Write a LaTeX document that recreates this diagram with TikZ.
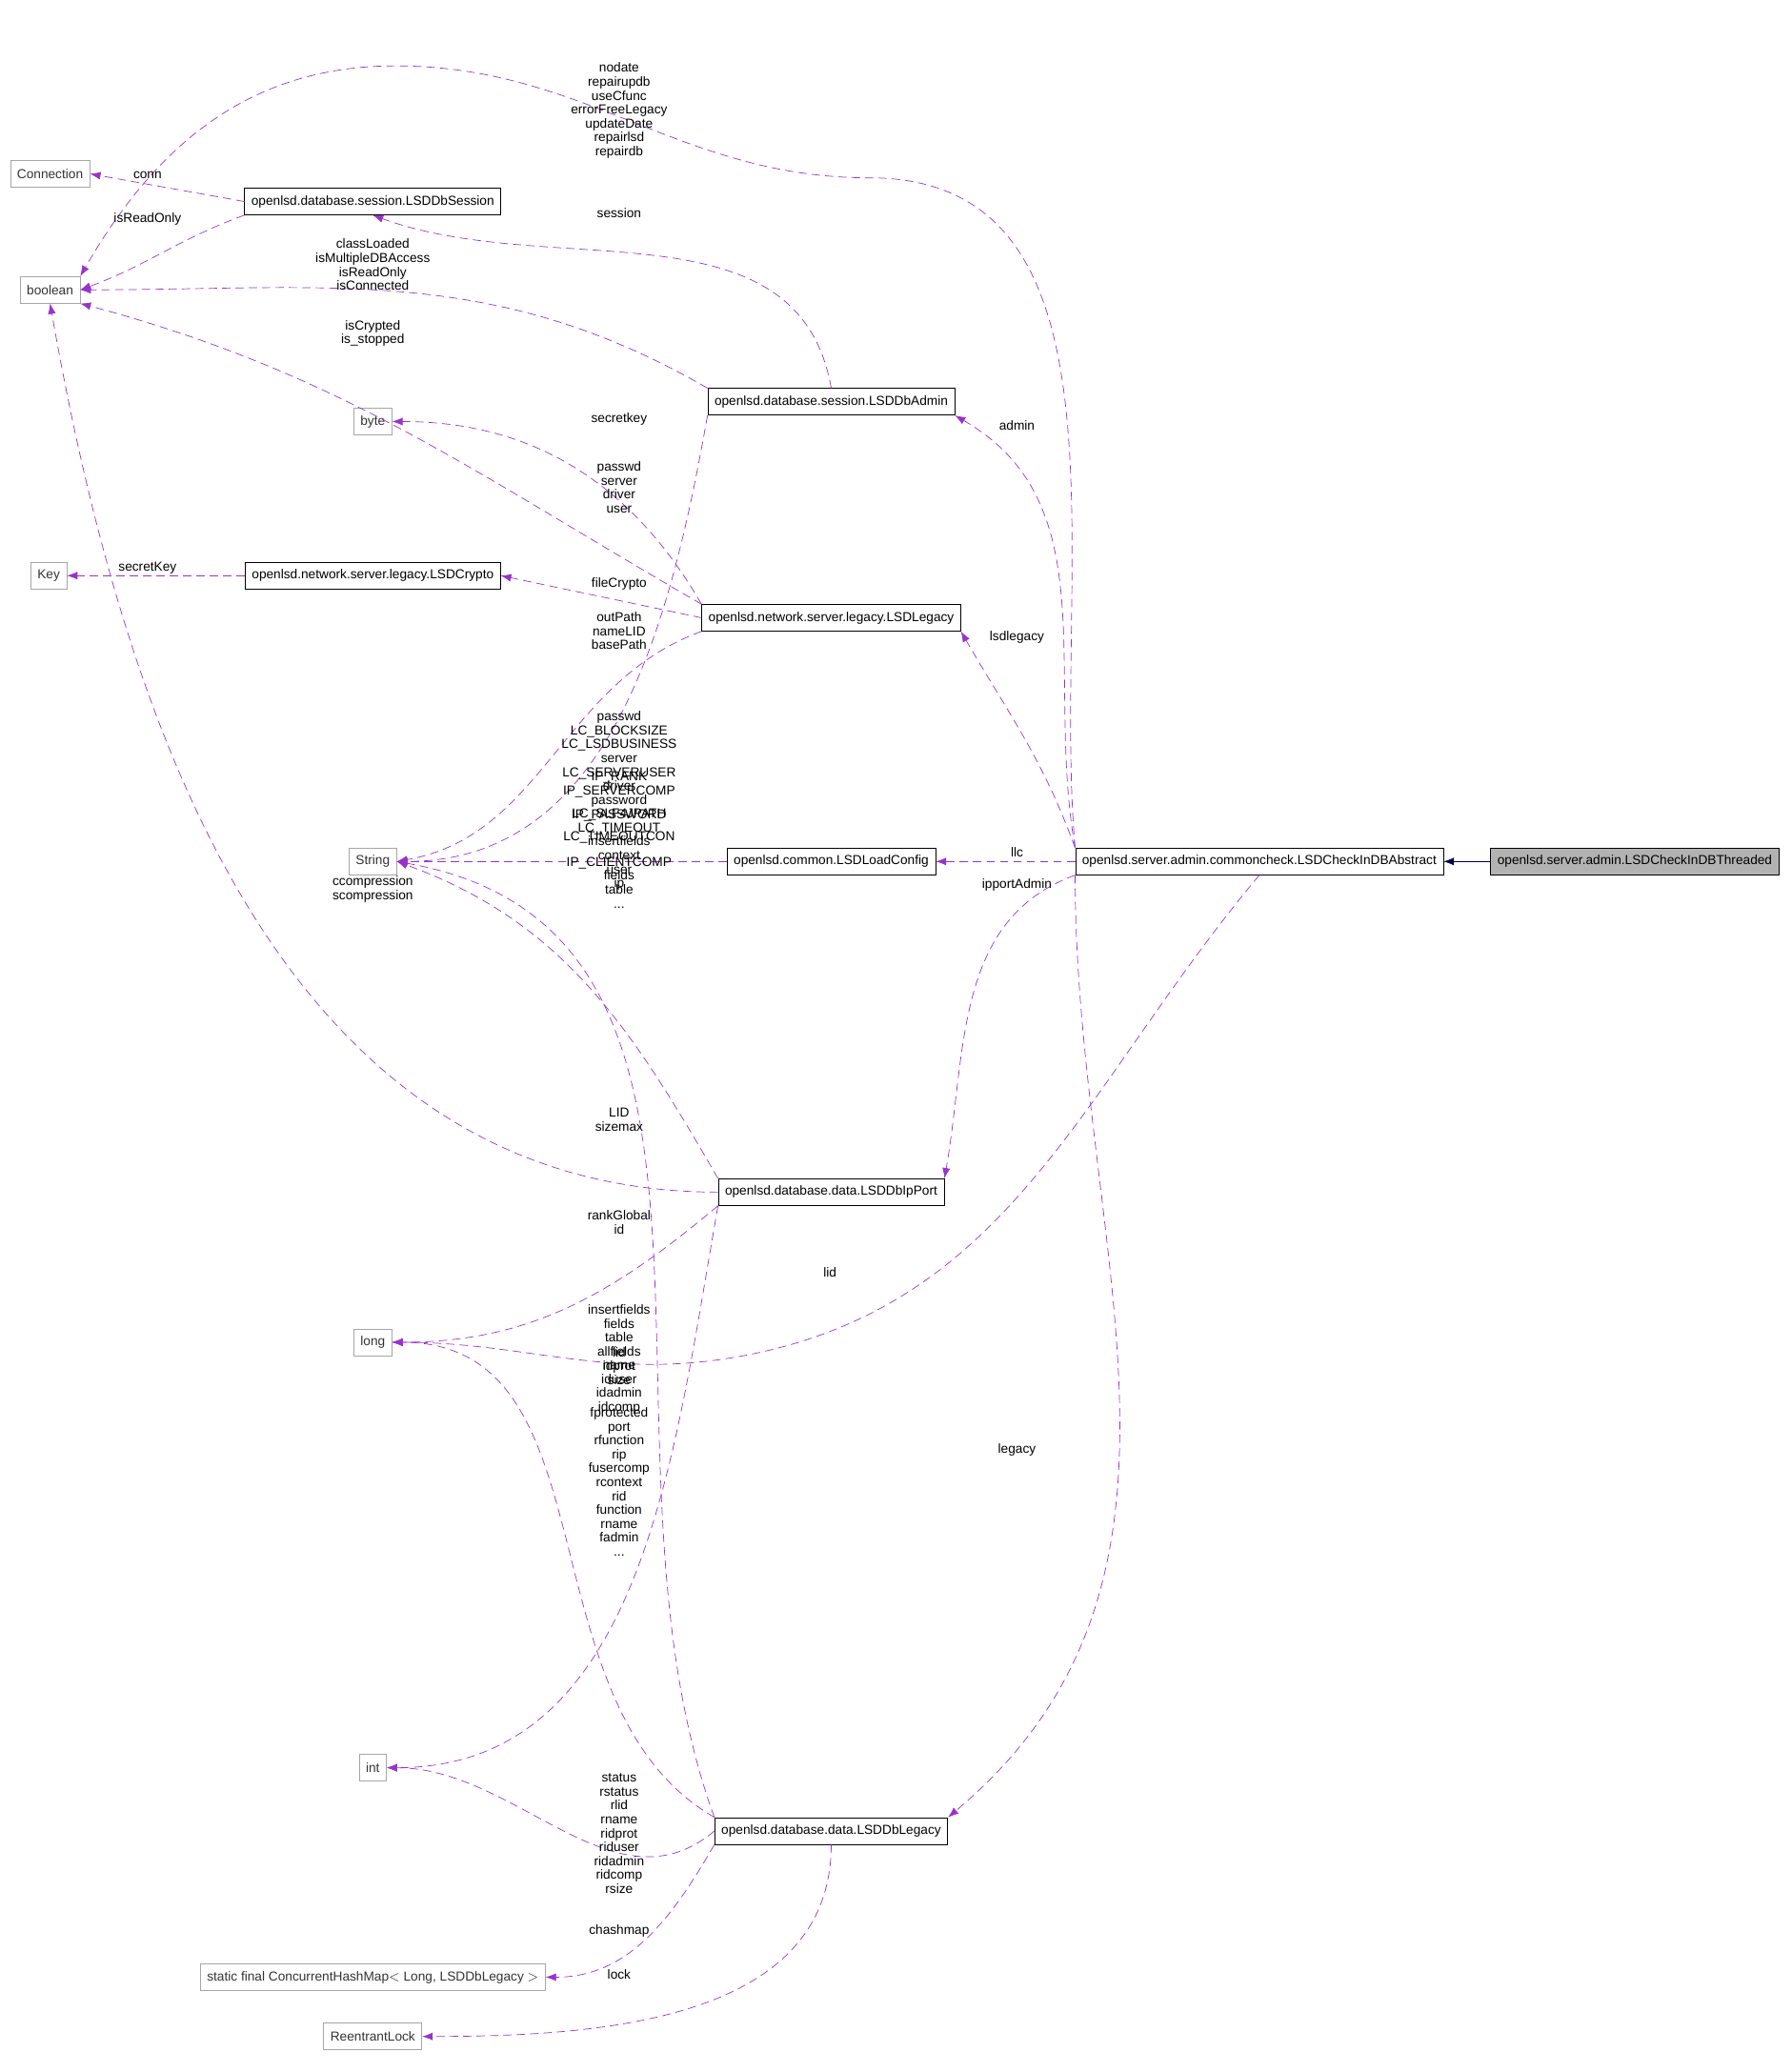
\documentclass[tikz,border=0pt]{standalone}
\usepackage{fontspec}
\setmainfont{Liberation Sans}
\usetikzlibrary{arrows.meta,positioning}
\definecolor{usecol}{RGB}{153,50,205}
\tikzset{cls node/.style={rectangle,draw=black,fill=white,minimum height=5.6mm,inner xsep=4pt,inner ysep=2pt,font=\fontsize{7.8}{9}\selectfont},
         ext node/.style={cls node,draw=black!35,text=black!80},
         cur node/.style={cls node,fill=black!30},
         use edge/.style={draw=usecol,dash pattern=on 5pt off 3pt,-{Latex[length=2.2mm]}},
         inh edge/.style={draw=blue!30!black,-{Latex[length=2.2mm]}},
         edge label/.style={align=center,font=\fontsize{7.8}{8.3}\selectfont,inner sep=0pt},
}
\begin{document}
\begin{tikzpicture}[x=0.0277cm,y=-0.0277cm]
\useasboundingbox (0,0) rectangle (1360,1573);
% plain types
\node[ext node] (conn) at (38,132) {Connection};
\node[ext node] (bool) at (38,220) {boolean};
\node[ext node] (byte) at (283,320) {byte};
\node[ext node] (key) at (37,437) {Key};
\node[ext node] (str) at (283,654) {String};
\node[ext node] (lng) at (283,1019) {long};
\node[ext node] (int) at (283,1342) {int};
\node[ext node] (map) at (283,1501) {static final ConcurrentHashMap$<$ Long, LSDDbLegacy $>$};
\node[ext node] (lock) at (283,1546) {ReentrantLock};
% classes
\node[cls node] (session) at (283,153) {openlsd.database.session.LSDDbSession};
\node[cls node] (crypto) at (283,437) {openlsd.network.server.legacy.LSDCrypto};
\node[cls node] (admin) at (631,305) {openlsd.database.session.LSDDbAdmin};
\node[cls node] (legacy) at (631,469) {openlsd.network.server.legacy.LSDLegacy};
\node[cls node] (config) at (631,654) {openlsd.common.LSDLoadConfig};
\node[cls node] (ipport) at (631,905) {openlsd.database.data.LSDDbIpPort};
\node[cls node] (dblegacy) at (631,1390) {openlsd.database.data.LSDDbLegacy};
\node[cls node] (abstract) at (956,654) {openlsd.server.admin.commoncheck.LSDCheckInDBAbstract};
\node[cur node] (threaded) at (1241,654) {openlsd.server.admin.LSDCheckInDBThreaded};
% inheritance
\draw[inh edge] (threaded) -- (abstract);
% usage
\draw[use edge] (abstract.north west) to[out=95,in=0] (660,135) to[out=180,in=0] (300,50) to[out=180,in=60] (bool.north east);
\draw[use edge] (session.west) -- (conn.east);
\draw[use edge] (session.south west) to[out=200,in=20] (bool.east);
\draw[use edge] (admin.north) to[out=100,in=-20] (session.south);
\draw[use edge] (admin.north west) to[out=150,in=0] (bool.east);
\draw[use edge] (legacy.north west) to[out=150,in=-15] (bool.south east);
\draw[use edge] (legacy.north west) to[out=120,in=0] (byte.east);
\draw[use edge] (abstract.north west) to[out=100,in=-30] (admin.south east);
\draw[use edge] (admin.south west) to[out=260,in=0] (str.east);
\draw[use edge] (crypto.west) -- (key.east);
\draw[use edge] (legacy.west) -- (crypto.east);
\draw[use edge] (abstract.north west) to[out=110,in=-60] (legacy.south east);
\draw[use edge] (legacy.south west) to[out=200,in=10] (str.east);
\draw[use edge] (config.west) -- (str.east);
\draw[use edge] (abstract.west) -- (config.east);
\draw[use edge] (abstract.south west) to[out=200,in=80] (ipport.north east);
\draw[use edge] (ipport.west) to[out=180,in=-80] (bool.south);
\draw[use edge] (ipport.north west) to[out=120,in=-20] (str.east);
\draw[use edge] (ipport.south west) to[out=220,in=0] (lng.east);
\draw[use edge] (abstract.south) to[out=230,in=10] (560,1030) to[out=190,in=0] (lng.east);
\draw[use edge] (abstract.south west) to[out=270,in=40] (dblegacy.north east);
\draw[use edge] (dblegacy.north west) to[out=150,in=0] (lng.east);
\draw[use edge] (dblegacy.north west) to[out=110,in=-10] (str.east);
\draw[use edge] (ipport.south west) to[out=260,in=0] (int.east);
\draw[use edge] (dblegacy.west) to[out=220,in=0] (int.east);
\draw[use edge] (dblegacy.south west) to[out=240,in=0] (map.east);
\draw[use edge] (dblegacy.south) to[out=-90,in=0] (lock.east);
% labels
\node[edge label] (l1) at (470,84) {nodate\\repairupdb\\useCfunc\\errorFreeLegacy\\updateDate\\repairlsd\\repairdb};
\node[edge label] (l2) at (112,133) {conn};
\node[edge label] (l3) at (112,166) {isReadOnly};
\node[edge label] (l4) at (470,162) {session};
\node[edge label] (l5) at (283,201) {classLoaded\\isMultipleDBAccess\\isReadOnly\\isConnected};
\node[edge label] (l6) at (283,253) {isCrypted\\is\_stopped};
\node[edge label] (l7) at (470,318) {secretkey};
\node[edge label] (l8) at (772,323) {admin};
\node[edge label] (l9) at (470,370) {passwd\\server\\driver\\user};
\node[edge label] (l10) at (112,431) {secretKey};
\node[edge label] (l11) at (470,443) {fileCrypto};
\node[edge label] (l12) at (772,484) {lsdlegacy};
\node[edge label] (l13) at (470,479) {outPath\\nameLID\\basePath};
\node[edge label] (l14) at (470,608) {passwd\\LC\_BLOCKSIZE\\LC\_LSDBUSINESS\\server\\LC\_SERVERUSER\\driver\\password\\LC\_SLF4JPATH\\LC\_TIMEOUT\\insertfields\\context\\user\\ip};
\node[edge label] (l15) at (470,613) {IP\_RANK\\IP\_SERVERCOMP\\[6pt]IP\_PASSWORD\\[5pt]LC\_TIMEOUTCON};
\node[edge label] (l16) at (470,670) {IP\_CLIENTCOMP\\fields\\table\\...};
\node[edge label] (l17) at (283,675) {ccompression\\scompression};
\node[edge label] (l18) at (772,647) {llc};
\node[edge label] (l19) at (772,672) {ipportAdmin};
\node[edge label] (l20) at (470,850) {LID\\sizemax};
\node[edge label] (l21) at (470,928) {rankGlobal\\id};
\node[edge label] (l22) at (630,966) {lid};
\node[edge label] (l23) at (470,1032) {insertfields\\fields\\table\\allfields\\name\\iduser\\idadmin\\idcomp};
\node[edge label] (l24) at (470,1037) {lid\\idprot\\size};
\node[edge label] (l25) at (470,1125) {fprotected\\port\\rfunction\\rip\\fusercomp\\rcontext\\rid\\function\\rname\\fadmin\\...};
\node[edge label] (l26) at (772,1101) {legacy};
\node[edge label] (l27) at (470,1392) {status\\rstatus\\rlid\\rname\\ridprot\\riduser\\ridadmin\\ridcomp\\rsize};
\node[edge label] (l28) at (470,1466) {chashmap};
\node[edge label] (l29) at (470,1499) {lock};
\end{tikzpicture}
\end{document}
